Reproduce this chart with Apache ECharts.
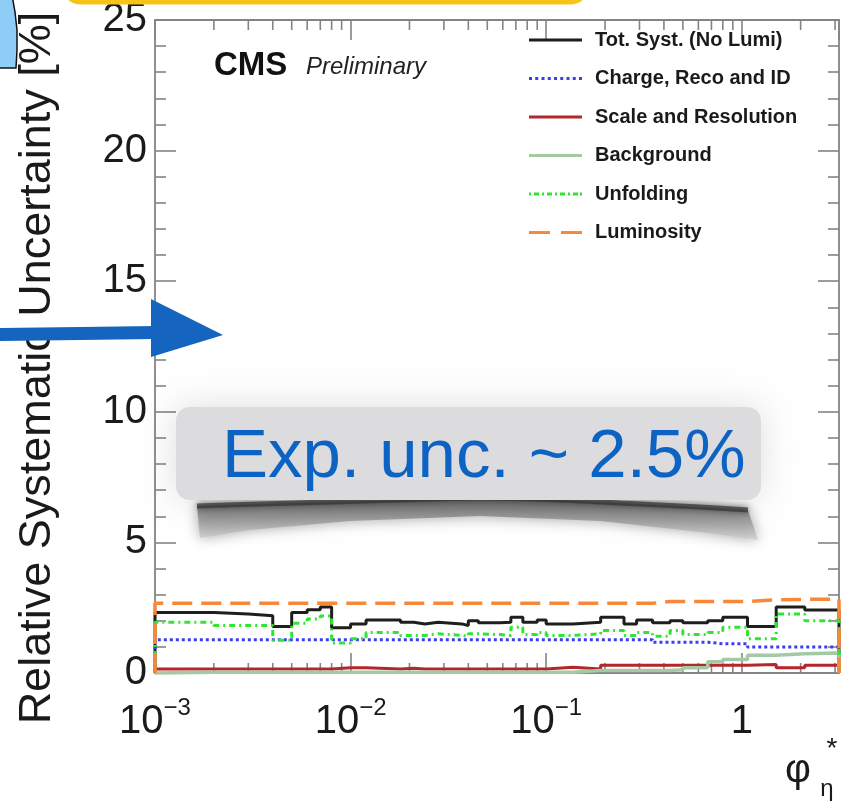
<!DOCTYPE html>
<html>
<head>
<meta charset="utf-8">
<script src="https://cdn.jsdelivr.net/npm/echarts@6/dist/echarts.min.js"></script>
<style>
  html, body { margin: 0; padding: 0; background: #ffffff; }
  #chart { width: 847px; height: 801px; }
</style>
</head>
<body>
<div id="chart"></div>
<script>
// Bin edges in phi*_eta
const binEdges = [0.001, 0.002, 0.003, 0.004, 0.005, 0.006, 0.007, 0.008, 0.010, 0.012,
  0.018, 0.021, 0.024, 0.028, 0.037, 0.040, 0.045, 0.058, 0.066, 0.076,
  0.090, 0.100, 0.137, 0.190, 0.250, 0.290, 0.350, 0.430, 0.500, 0.670,
  0.800, 1.070, 1.500, 2.100, 3.142];

// Relative systematic uncertainties per bin [%]
const totSyst = [2.32, 2.26, 2.19, 1.78, 2.32, 2.42, 2.53, 1.73, 1.88, 2.03,
  1.94, 1.88, 1.94, 1.88, 1.82, 2.00, 1.92, 1.94, 2.13, 1.94,
  2.03, 1.88, 1.94, 2.13, 1.88, 2.03, 1.92, 2.00, 1.92, 2.00,
  2.13, 1.78, 2.53, 2.41];
const chargeRecoId = [1.27, 1.27, 1.27, 1.27, 1.27, 1.27, 1.27, 1.27, 1.27, 1.27,
  1.27, 1.27, 1.27, 1.27, 1.27, 1.27, 1.27, 1.27, 1.27, 1.27,
  1.27, 1.27, 1.27, 1.27, 1.27, 1.27, 1.18, 1.18, 1.18, 1.12,
  1.12, 1.00, 1.00, 1.00];
const scaleResolution = [0.15, 0.15, 0.15, 0.15, 0.15, 0.15, 0.15, 0.20, 0.20, 0.15,
  0.18, 0.15, 0.15, 0.15, 0.15, 0.15, 0.15, 0.15, 0.15, 0.15,
  0.15, 0.22, 0.15, 0.30, 0.30, 0.30, 0.30, 0.30, 0.30, 0.30,
  0.30, 0.33, 0.20, 0.30];
const background = [0.03, 0.03, 0.03, 0.03, 0.03, 0.03, 0.03, 0.03, 0.03, 0.03,
  0.03, 0.03, 0.03, 0.03, 0.03, 0.03, 0.03, 0.03, 0.03, 0.03,
  0.03, 0.03, 0.10, 0.10, 0.10, 0.10, 0.10, 0.12, 0.20, 0.43,
  0.52, 0.68, 0.74, 0.77];
const unfolding = [1.94, 1.82, 1.82, 1.25, 1.90, 2.07, 2.18, 1.15, 1.31, 1.55,
  1.44, 1.44, 1.50, 1.44, 1.40, 1.50, 1.47, 1.44, 1.75, 1.47,
  1.55, 1.44, 1.50, 1.63, 1.44, 1.55, 1.41, 1.63, 1.47, 1.55,
  1.75, 1.31, 2.26, 2.00];
const luminosity = [2.67, 2.67, 2.67, 2.67, 2.67, 2.67, 2.67, 2.67, 2.67, 2.67,
  2.67, 2.67, 2.67, 2.67, 2.67, 2.67, 2.67, 2.67, 2.67, 2.67,
  2.67, 2.67, 2.67, 2.67, 2.67, 2.67, 2.74, 2.74, 2.74, 2.74,
  2.74, 2.80, 2.82, 2.82];

const seriesNames = ['Tot. Syst. (No Lumi)', 'Charge, Reco and ID', 'Scale and Resolution',
  'Background', 'Unfolding', 'Luminosity'];

// Axis ranges and tick labels
const xRange = [0.001, 3.142];
const yRange = [0, 25];
const yTickStep = 5;
const xDecades = [0.001, 0.01, 0.1, 1];
const xDecadeLabels = ['{b|10}{s|\u22123}', '{b|10}{s|\u22122}', '{b|10}{s|\u22121}', '{b|1}'];

const FONT = "'Liberation Sans', Arial, Helvetica, sans-serif";
const FRAME = '#848484';

// Histogram outline: rises from zero at the first edge, steps at each bin edge,
// drops back to zero at the last edge.
function histogram(values) {
  const last = binEdges.length - 1;
  const pts = [[binEdges[0], 0]];
  values.forEach((v, i) => pts.push([binEdges[i], v]));
  pts.push([binEdges[last], values[values.length - 1]]);
  pts.push([binEdges[last], 0]);
  return pts;
}

// Log-axis minor ticks (2..9 per decade)
const xMinorTicks = [];
xDecades.forEach(d => {
  for (let k = 2; k <= 9; k++) {
    const v = +(k * d).toPrecision(3);
    if (v < xRange[1]) xMinorTicks.push([v, 0]);
  }
});

// Legend icon paths (53 x 3 box) mimicking each line style
function dashPath(pattern) {
  return 'path://' + pattern.map(p => `M${p[0]},0h${p[1]}v3h-${p[1]}z`).join(' ');
}
const iconSolid = dashPath([[0, 53]]);
const iconDotted = dashPath([0, 1, 2, 3, 4, 5, 6, 7, 8].map(i => [i * 6.25, 3]));
const iconDashDot = dashPath([[0, 2], [5, 5], [13, 2], [18, 5], [26, 2], [31, 5], [39, 2], [44, 5], [51, 2]]);
const iconDashed = dashPath([[0, 21], [32, 21]]);

const styles = [
  { color: '#1e1e1e', width: 3, type: 'solid', icon: iconSolid },
  { color: '#3c3cf5', width: 3, type: [3, 3], icon: iconDotted },
  { color: '#b3262a', width: 3, type: 'solid', icon: iconSolid },
  { color: '#a4c9a4', width: 3.5, type: 'solid', icon: iconSolid },
  { color: '#2ee62e', width: 3, type: [6, 4, 2, 4], icon: iconDashDot },
  { color: '#f7883a', width: 3.5, type: [20, 9], icon: iconDashed }
];
const seriesValues = [totSyst, chargeRecoId, scaleResolution, background, unfolding, luminosity];

const chart = echarts.init(document.getElementById('chart'), null, { renderer: 'canvas', width: 847, height: 801 });

const lineSeries = seriesNames.map((name, i) => ({
  name: name,
  type: 'line',
  step: 'end',
  data: histogram(seriesValues[i]),
  showSymbol: false,
  symbol: 'none',
  clip: false,
  color: styles[i].color,
  lineStyle: { color: styles[i].color, width: styles[i].width, type: styles[i].type, cap: 'butt' },
  emphasis: { disabled: true },
  z: 3
}));

const tickSeries = {
  type: 'custom',
  silent: true,
  clip: false,
  data: xMinorTicks,
  encode: { x: 0, y: 1 },
  z: 2,
  renderItem: function (params, api) {
    const v = api.value(0);
    const b = api.coord([v, yRange[0]]);
    const t = api.coord([v, yRange[1]]);
    return {
      type: 'group',
      children: [
        { type: 'line', shape: { x1: b[0], y1: b[1], x2: b[0], y2: b[1] - 10 }, style: { stroke: FRAME, lineWidth: 1.6 } },
        { type: 'line', shape: { x1: t[0], y1: t[1], x2: t[0], y2: t[1] + 10 }, style: { stroke: FRAME, lineWidth: 1.6 } }
      ]
    };
  }
};

function xLabel(v) {
  for (let i = 0; i < xDecades.length; i++) {
    if (Math.abs(v - xDecades[i]) / xDecades[i] < 1e-6) return xDecadeLabels[i];
  }
  return '';
}

const frameLine = { show: true, onZero: false, lineStyle: { color: FRAME, width: 1.8 } };

// Smudged band left beneath the annotation box (top ridge and lower edge)
const smudgeTop = [[197, 506], [260, 504], [330, 502], [400, 500], [480, 498], [560, 500], [640, 504], [700, 507], [748, 510]];
const smudgeBottom = [[758, 540], [700, 532], [600, 521], [480, 516], [350, 521], [250, 530], [200, 538]];

const option = {
  backgroundColor: '#ffffff',
  animation: false,
  grid: { left: 155, right: 8, top: 12, bottom: 128, containLabel: false },
  xAxis: [
    {
      type: 'log', logBase: 10, min: xRange[0], max: xRange[1], position: 'bottom',
      axisLine: frameLine,
      axisTick: { show: true, inside: true, length: 20, lineStyle: { color: FRAME, width: 1.6 } },
      splitLine: { show: false },
      axisLabel: {
        show: true, interval: 0, margin: 23, formatter: xLabel, color: '#1a1a1a',
        showMinLabel: true, showMaxLabel: false,
        rich: {
          b: { fontFamily: FONT, fontSize: 40, lineHeight: 46, verticalAlign: 'bottom', color: '#1a1a1a' },
          s: { fontFamily: FONT, fontSize: 24, lineHeight: 24, verticalAlign: 'top', color: '#1a1a1a' }
        }
      }
    },
    {
      type: 'log', logBase: 10, min: xRange[0], max: xRange[1], position: 'top',
      axisLine: frameLine,
      axisTick: { show: true, inside: true, length: 20, lineStyle: { color: FRAME, width: 1.6 } },
      splitLine: { show: false },
      axisLabel: { show: false }
    }
  ],
  yAxis: [
    {
      type: 'value', min: yRange[0], max: yRange[1], interval: yTickStep, position: 'left',
      axisLine: frameLine,
      axisTick: { show: true, inside: true, length: 21, lineStyle: { color: FRAME, width: 1.6 } },
      minorTick: { show: true, splitNumber: 5, length: 11, lineStyle: { color: FRAME, width: 1.6 } },
      splitLine: { show: false },
      axisLabel: { show: true, margin: 8, fontFamily: FONT, fontSize: 40, color: '#1a1a1a' }
    },
    {
      type: 'value', min: yRange[0], max: yRange[1], interval: yTickStep, position: 'right',
      axisLine: frameLine,
      axisTick: { show: true, inside: true, length: 21, lineStyle: { color: FRAME, width: 1.6 } },
      minorTick: { show: true, splitNumber: 5, length: 11, lineStyle: { color: FRAME, width: 1.6 } },
      splitLine: { show: false },
      axisLabel: { show: false }
    }
  ],
  legend: {
    orient: 'vertical', left: 529, top: 30, padding: 0,
    itemWidth: 53, itemHeight: 3, itemGap: 18.5,
    selectedMode: false,
    itemStyle: { borderWidth: 0 },
    textStyle: { fontFamily: FONT, fontWeight: 'bold', fontSize: 20, lineHeight: 20, color: '#1a1a1a', padding: [0, 0, 0, 8] },
    data: seriesNames.map((n, i) => ({ name: n, icon: styles[i].icon }))
  },
  series: [tickSeries].concat(lineSeries),
  graphic: [
    // y-axis title
    { type: 'text', x: 38, y: 368, rotation: Math.PI / 2, z: 50,
      style: { text: 'Relative Systematic Uncertainty [%]', font: `45px ${FONT}`, fill: '#1a1a1a', align: 'center', verticalAlign: 'middle' } },
    // x-axis title phi*_eta
    { type: 'text', x: 798, y: 771, z: 50, style: { text: '\u03c6', font: `40px ${FONT}`, fill: '#1a1a1a', align: 'center', verticalAlign: 'middle' } },
    { type: 'text', x: 832, y: 749, z: 50, style: { text: '*', font: `28px ${FONT}`, fill: '#1a1a1a', align: 'center', verticalAlign: 'middle' } },
    { type: 'text', x: 827, y: 789, z: 50, style: { text: '\u03b7', font: `24px ${FONT}`, fill: '#1a1a1a', align: 'center', verticalAlign: 'middle' } },
    // experiment label
    { type: 'text', x: 214, y: 66, z: 50, style: { text: 'CMS', font: `bold 33px ${FONT}`, fill: '#111', align: 'left', verticalAlign: 'middle' } },
    { type: 'text', x: 306, y: 67, z: 50, style: { text: 'Preliminary', font: `italic 24px ${FONT}`, fill: '#222', align: 'left', verticalAlign: 'middle' } },
    // smudged band under the annotation box
    { type: 'polygon', z: 60,
      shape: { points: smudgeTop.concat(smudgeBottom) },
      style: {
        fill: { type: 'linear', x: 0, y: 0, x2: 0, y2: 1, colorStops: [
          { offset: 0, color: '#5a5a5a' }, { offset: 0.45, color: '#8f8f8f' }, { offset: 1, color: '#d2d2d2' }] },
        shadowBlur: 14, shadowColor: 'rgba(120,120,120,0.75)', opacity: 0.85
      } },
    { type: 'polyline', z: 60, shape: { points: smudgeTop, smooth: 0.3 },
      style: { stroke: '#3a3a3a', lineWidth: 5, shadowBlur: 6, shadowColor: 'rgba(40,40,40,0.8)', opacity: 0.75 } },
    // annotation box
    { type: 'rect', z: 61, shape: { x: 176, y: 407, width: 585, height: 93, r: 14 },
      style: { fill: '#dcdcde', shadowBlur: 36, shadowColor: 'rgba(0,0,0,0.13)' } },
    { type: 'text', x: 222, y: 458, z: 62,
      style: { text: 'Exp. unc. ~ 2.5%', font: `69px ${FONT}`, fill: '#0d63c3', align: 'left', verticalAlign: 'middle' } },
    // hand-drawn arrow
    { type: 'polygon', z: 70, shape: { points: [[0, 328], [80, 327], [155, 326], [155, 339], [80, 340], [0, 341]] },
      style: { fill: '#1565c0' } },
    { type: 'polygon', z: 70, shape: { points: [[151, 299], [223, 335], [151, 357]] },
      style: { fill: '#1565c0' } },
    // slide decorations at the top edge
    { type: 'polygon', z: 80, shape: { points: [[-5, -5], [12, -5], [15, 12], [17, 30], [17, 50], [16, 68], [-5, 68]] },
      style: { fill: '#8ecdf5', stroke: '#111', lineWidth: 1.5 } },
    { type: 'rect', z: 80, shape: { x: 63, y: -40, width: 525, height: 42, r: 18 },
      style: { fill: 'none', stroke: '#f6c419', lineWidth: 5 } }
  ]
};

chart.setOption(option);
</script>
</body>
</html>
